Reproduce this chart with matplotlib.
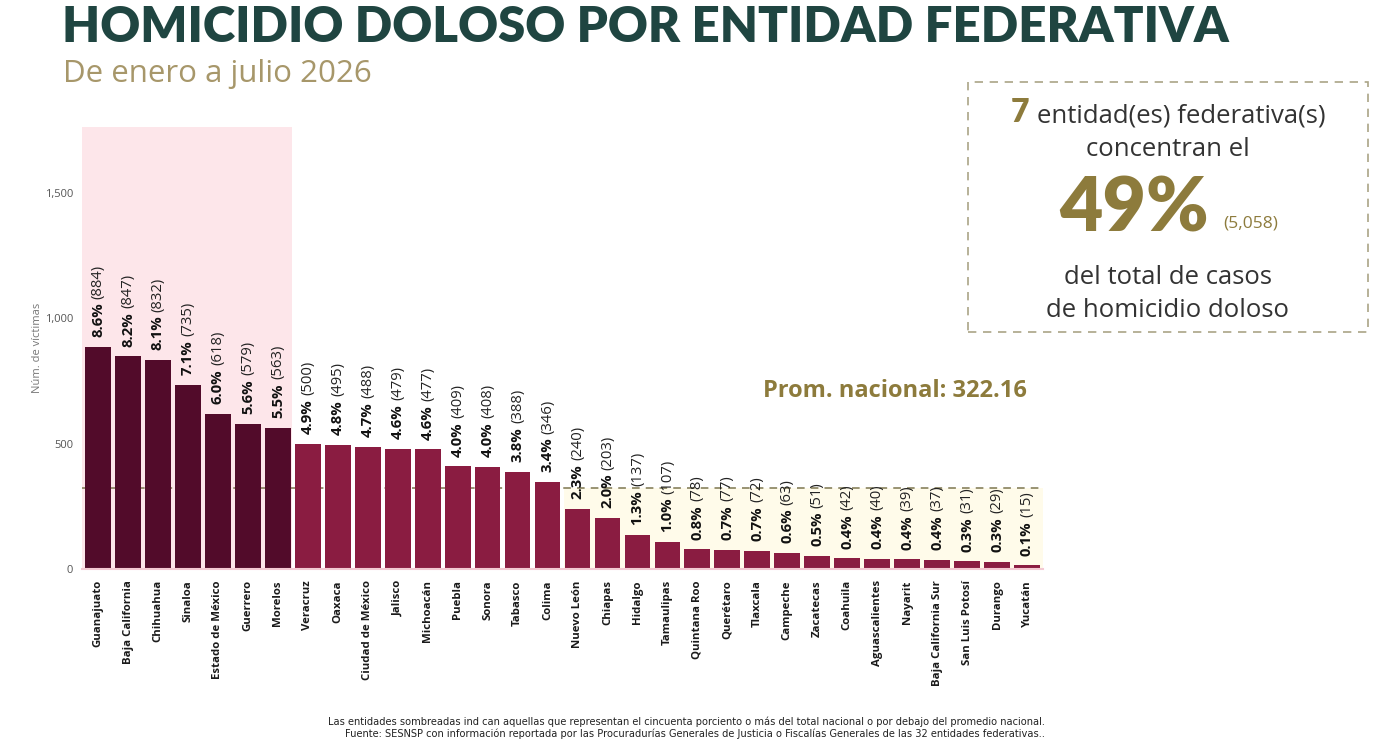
import matplotlib
matplotlib.use("Agg")
import matplotlib.pyplot as plt
from matplotlib.patches import Rectangle
from matplotlib import font_manager as fm

plt.rcParams['font.family'] = ['Open Sans', 'DejaVu Sans']


def fp(name, weight, size):
    cands = [f for f in fm.fontManager.ttflist
             if f.name == name and f.weight == weight and f.style == "normal"
             and f.stretch == "normal" and "ondensed" not in f.fname
             and "Italic" not in f.fname]
    if cands:
        cands.sort(key=lambda f: len(f.fname))
        return fm.FontProperties(fname=cands[0].fname, size=size)
    return fm.FontProperties(family=[name, "DejaVu Sans"], weight=weight, size=size)


estados = ["Guanajuato", "Baja California", "Chihuahua", "Sinaloa", "Estado de México",
           "Guerrero", "Morelos", "Veracruz", "Oaxaca", "Ciudad de México", "Jalisco",
           "Michoacán", "Puebla", "Sonora", "Tabasco", "Colima", "Nuevo León", "Chiapas",
           "Hidalgo", "Tamaulipas", "Quintana Roo", "Querétaro", "Tlaxcala", "Campeche",
           "Zacatecas", "Coahuila", "Aguascalientes", "Nayarit", "Baja California Sur",
           "San Luis Potosí", "Durango", "Yucatán"]
victimas = [884, 847, 832, 735, 618, 579, 563, 500, 495, 488, 479, 477, 409, 408, 388,
            346, 240, 203, 137, 107, 78, 77, 72, 63, 51, 42, 40, 39, 37, 31, 29, 15]
porcentajes = ["8.6%", "8.2%", "8.1%", "7.1%", "6.0%", "5.6%", "5.5%", "4.9%", "4.8%",
               "4.7%", "4.6%", "4.6%", "4.0%", "4.0%", "3.8%", "3.4%", "2.3%", "2.0%",
               "1.3%", "1.0%", "0.8%", "0.7%", "0.7%", "0.6%", "0.5%", "0.4%", "0.4%",
               "0.4%", "0.4%", "0.3%", "0.3%", "0.1%"]
n_concentran = 7
promedio = 322.16
y_ticks = [0, 500, 1000, 1500]
y_ticklabels = ["0", "500", "1,000", "1,500"]

DARK = "#520b2a"
MID = "#8a1c41"
OLIVE = "#8d7b3c"

fig = plt.figure(figsize=(13.73, 7.49), dpi=100)
ax = fig.add_axes([0.0594, 0.2403, 0.7006, 0.5901])
n = len(estados)
x = list(range(n))
ax.set_xlim(-0.55, n - 0.45)
ax.set_ylim(0, 1761)

# shading
ax.add_patch(Rectangle((-0.55, 0), n_concentran - 0.5 + 0.55 - 0.03, 1761,
                       facecolor="#fde6ea", edgecolor="none", zorder=0))
first_below = next(i for i, v in enumerate(victimas) if v < promedio)
ax.add_patch(Rectangle((first_below - 0.45, 0), n - 0.45 - (first_below - 0.45), promedio,
                       facecolor="#fffbea", edgecolor="none", zorder=0))
ax.axhline(promedio, color="#7d7650", lw=1.1, ls=(0, (5, 4)), zorder=1)

colors = [DARK if i < n_concentran else MID for i in x]
ax.bar(x, victimas, width=0.86, color=colors, zorder=2, linewidth=0)

bold_lbl = fp("Open Sans", 700, 10.7)
reg_lbl = fp("Open Sans", 400, 10.7)
for i, (v, p) in enumerate(zip(victimas, porcentajes)):
    t = ax.annotate(p, xy=(i, v), xytext=(0, 7), textcoords="offset points",
                    rotation=90, ha="center", va="bottom", fontproperties=bold_lbl,
                    color="#111111", zorder=3)
    ax.annotate(f"({v})", xy=(0.5, 1), xycoords=t, xytext=(0, 3),
                textcoords="offset points", rotation=90, ha="center", va="bottom",
                fontproperties=reg_lbl, color="#222222", zorder=3)

ax.set_xticks(x)
ax.set_xticklabels(estados, rotation=90, color="#1a1a1a")
for lab in ax.get_xticklabels():
    lab.set_fontproperties(fp("Open Sans", 700, 8.2))
ax.set_yticks(y_ticks)
ax.set_yticklabels(y_ticklabels, fontsize=8, color="#555555")
ax.tick_params(axis="both", length=0)
ax.tick_params(axis="x", pad=8)
ax.tick_params(axis="y", pad=6)
for s in ["top", "right", "left"]:
    ax.spines[s].set_visible(False)
ax.spines["bottom"].set_color("#f3c9d2")
ax.spines["bottom"].set_linewidth(1.5)
ax.set_ylabel("Núm. de víctimas", fontsize=8, color="#777777", labelpad=1)
ax.set_facecolor("none")

fig.text(1027 / 1373, 1 - 391 / 749, f"Prom. nacional: {promedio:.2f}",
         ha="right", va="center", fontproperties=fp("Open Sans", 700, 17), color=OLIVE)

# title
fig.text(0.045, 1 - 42 / 749, "HOMICIDIO DOLOSO POR ENTIDAD FEDERATIVA",
         fontproperties=fp("Lato", 900, 35.4), color="#1f4541", va="baseline")
fig.text(0.046, 1 - 82 / 749, "De enero a julio 2026", fontsize=22.5, color="#a7976a",
         va="baseline")

# info box
bx0, bx1 = 968 / 1373, 1368 / 1373
by0, by1 = 1 - 332 / 749, 1 - 82 / 749
fig.add_artist(Rectangle((bx0, by0), bx1 - bx0, by1 - by0, transform=fig.transFigure,
                         facecolor="none", edgecolor="#aaa486", lw=1.2, ls=(0, (5, 4))))
fig.text(1029 / 1373, 1 - 113 / 749, f"{n_concentran}", fontproperties=fp("Lato", 900, 23),
         color=OLIVE, ha="right", va="center")
fig.text(1037 / 1373, 1 - 116 / 749, "entidad(es) federativa(s)", fontsize=18.5,
         color="#333333", ha="left", va="center")
fig.text(1168 / 1373, 1 - 150 / 749, "concentran el", fontsize=18.5, color="#333333",
         ha="center", va="center")
fig.text(1134 / 1373, 1 - 232 / 749, "49%", fontproperties=fp("Lato", 900, 54),
         color=OLIVE, ha="center", va="baseline")
fig.text(1251 / 1373, 1 - 224 / 749, "(5,058)", fontsize=12.5, color=OLIVE,
         ha="center", va="center")
fig.text(1168 / 1373, 1 - 278 / 749, "del total de casos", fontsize=18.5, color="#333333",
         ha="center", va="center")
fig.text(1168 / 1373, 1 - 310 / 749, "de homicidio doloso", fontsize=18.5, color="#333333",
         ha="center", va="center")

# footnotes
fn = ["Liberation Sans Narrow", "DejaVu Sans"]
fig.text(1045 / 1373, 1 - 722 / 749,
         "Las entidades sombreadas ind can aquellas que representan el cincuenta porciento o más del total nacional o por debajo del promedio nacional.",
         fontsize=7.1, family=fn, color="#222222", ha="right", va="center")
fig.text(1045 / 1373, 1 - 734 / 749,
         "Fuente: SESNSP con información reportada por las Procuradurías Generales de Justicia o Fiscalías Generales de las 32 entidades federativas..",
         fontsize=7.1, family=fn, color="#222222", ha="right", va="center")

fig.savefig("out.png", dpi=100, facecolor="white")
